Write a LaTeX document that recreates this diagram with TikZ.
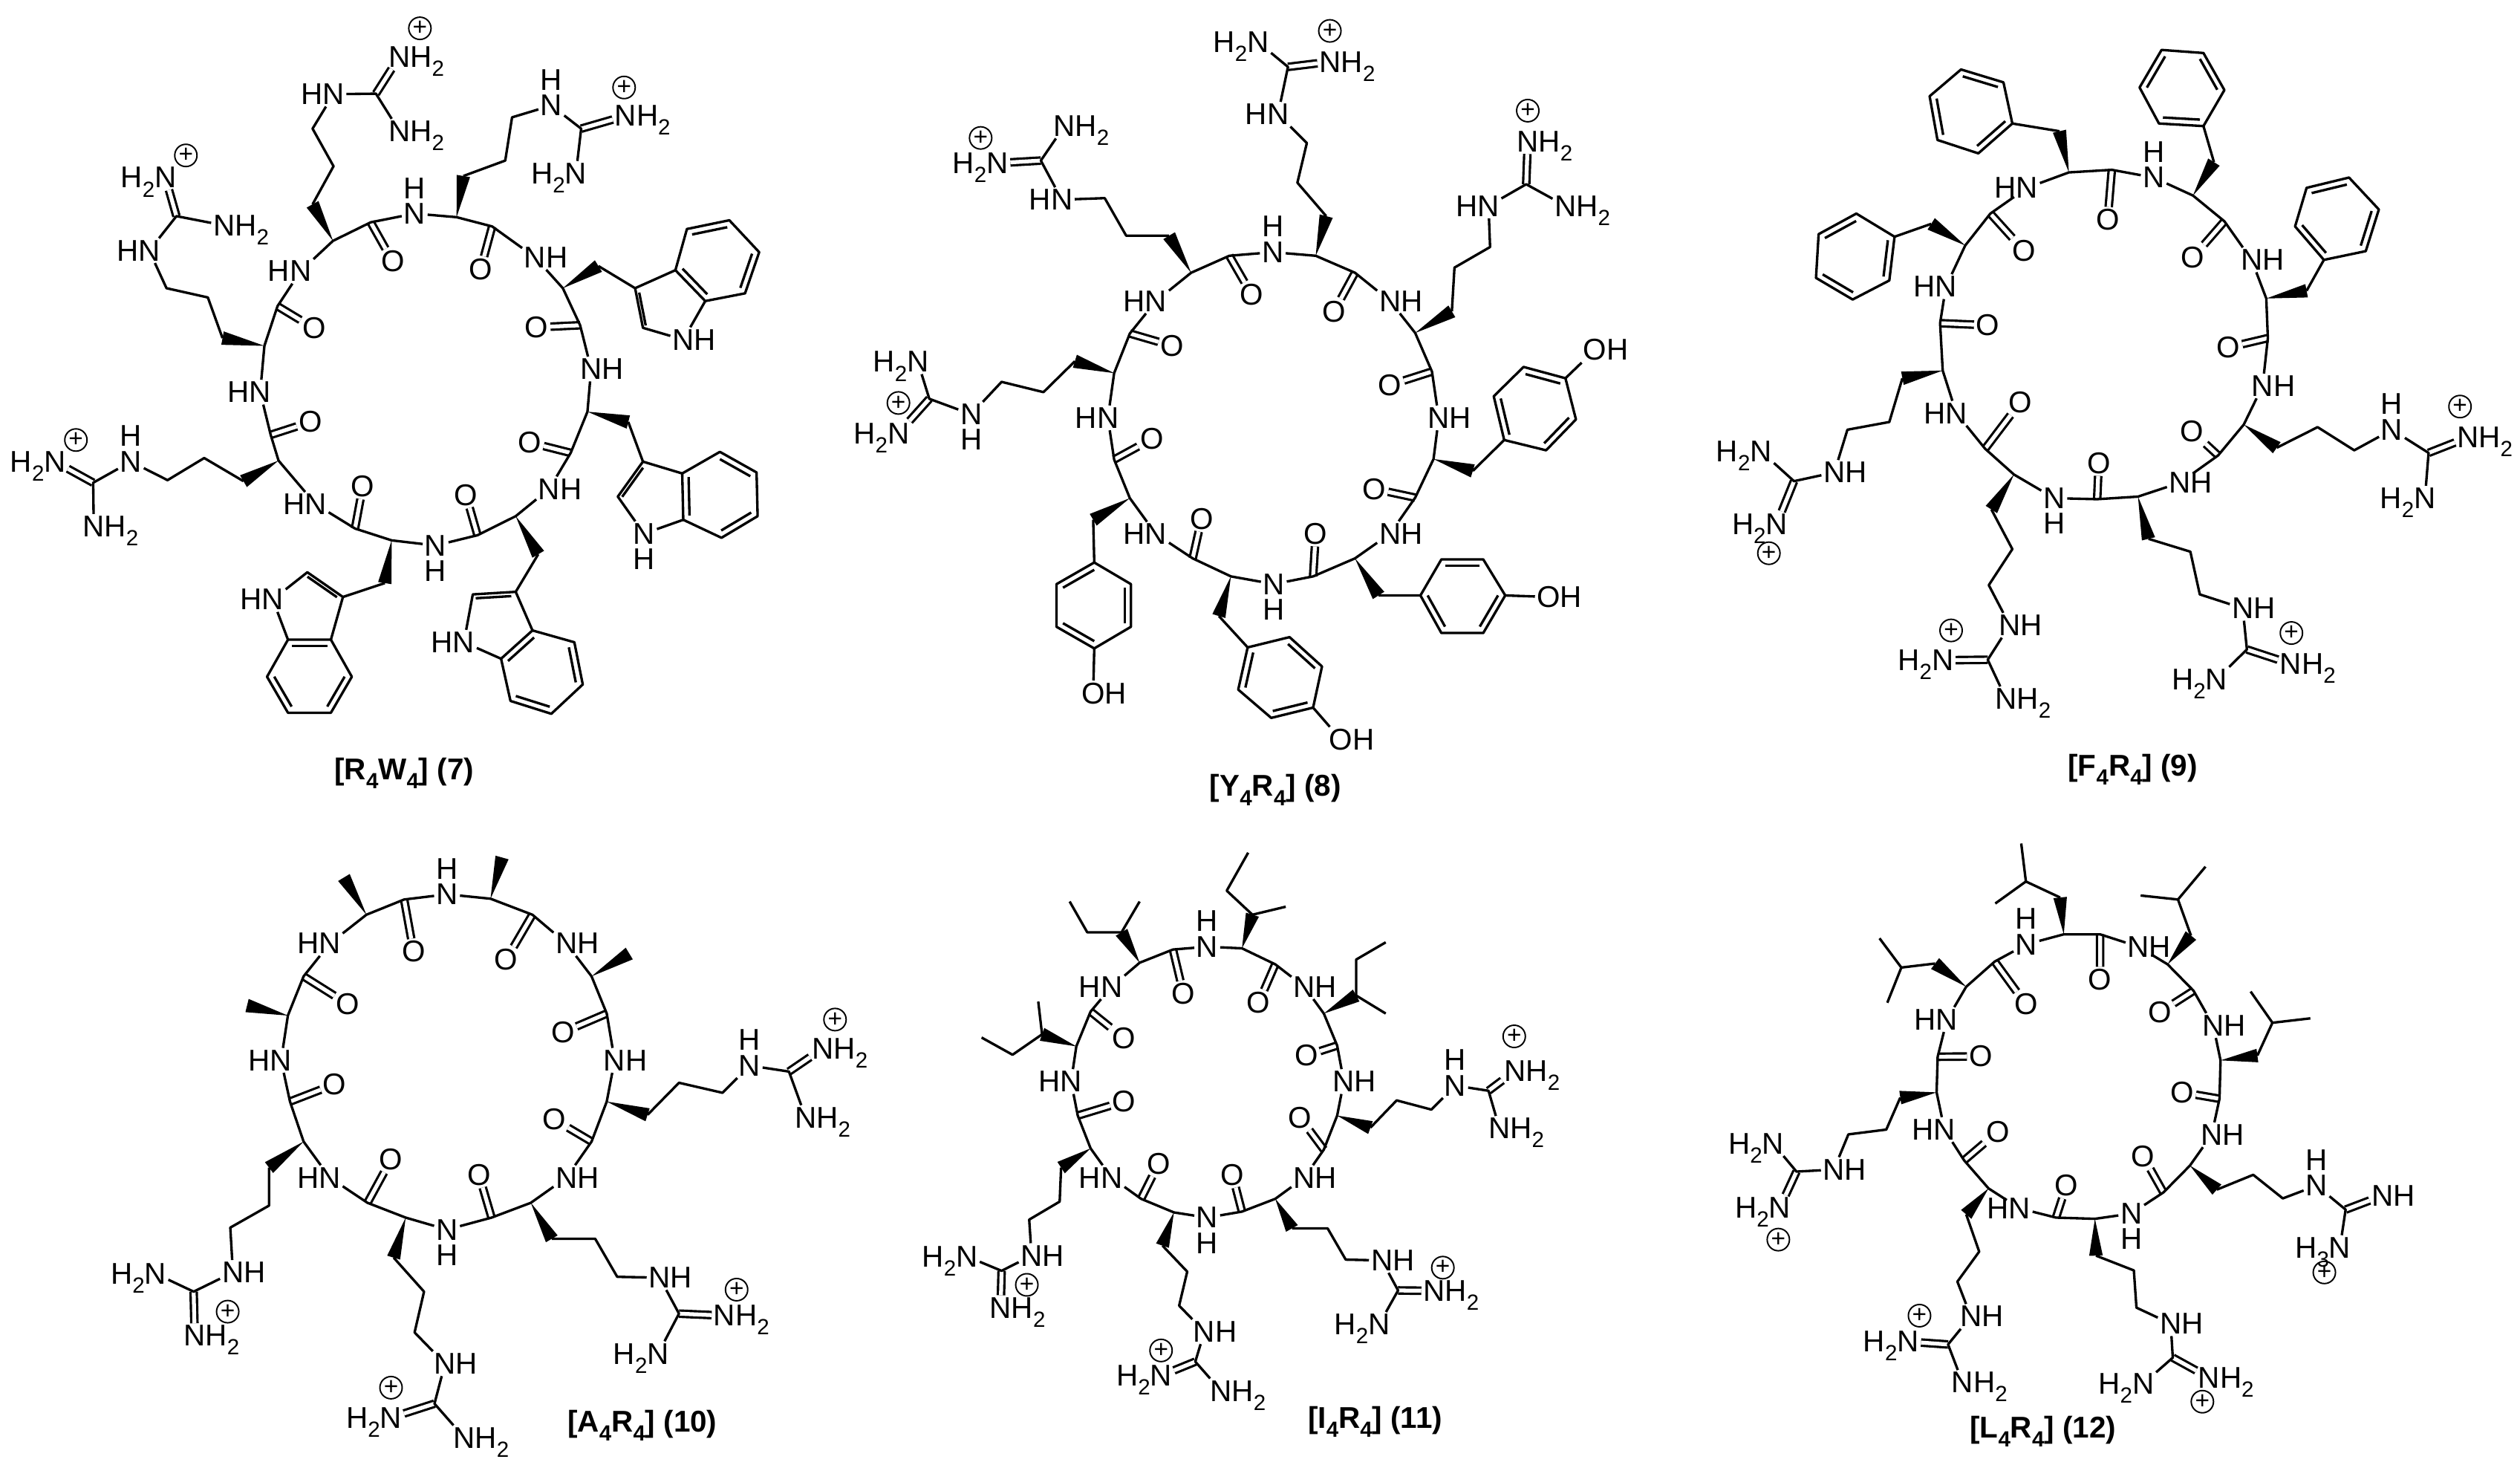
\documentclass[tikz,border=0pt]{standalone}
\usepackage{fontspec}
\setmainfont{Liberation Sans}
\usetikzlibrary{calc}
\newcommand{\sbs}[1]{\raisebox{-.3em}{\fontsize{8.4}{9}\selectfont #1}}
\newcommand{\tNH}{N\rlap{H}}
\newcommand{\tHN}{\llap{H}N}
\newcommand{\tNup}{N\llap{\smash{\raisebox{.85em}{H}}}}
\newcommand{\tNdn}{N\llap{\smash{\raisebox{-.85em}{H}}}}
\newcommand{\tNHH}{N\rlap{\smash{H\sbs{2}}}}
\newcommand{\tHHN}{\llap{\smash{H\sbs{2}}}N}
\newcommand{\tOH}{O\rlap{H}}
\newcommand{\wdg}[2]{\fill (#1) -- ($(#2)!2.6pt!90:(#1)$) -- ($(#2)!2.6pt!-90:(#1)$) -- cycle;}
\newcommand{\inb}[3]{\draw[bnd] ($(#1)!.17!(#3)$) -- ($(#2)!.17!(#3)$);}
\newcommand{\benz}[1]{\coordinate (#1c) at ($(#11)!.5!(#14)$);
  \draw[bnd] (#11) -- (#12) -- (#13) -- (#14) -- (#15) -- (#16) -- cycle;
  \inb{#11}{#12}{#1c} \inb{#13}{#14}{#1c} \inb{#15}{#16}{#1c}}
\tikzset{
  atm/.style={inner sep=.6pt,font=\fontsize{11.5}{13}\selectfont},
  chg/.style={circle,draw,line width=.55pt,inner sep=0pt,minimum size=.3cm,font=\fontsize{9.5}{10}\selectfont},
  capt/.style={inner sep=0pt,font=\fontsize{11.5}{13}\selectfont\bfseries},
  bnd/.style={line width=.95pt,line join=round},
  dbl/.style={line width=.9pt,double,double distance=1.5pt}
}
\begin{document}
\begin{tikzpicture}
\useasboundingbox (0,0) rectangle (33.93,-19.71);

\begin{scope}[shift={(0,0)},x=.00705cm,y=-.00692cm]
  \node[atm] (n1) at (792,415) {\tNup};
  \node[atm] (n2) at (1022,500) {\tNH};
  \node[atm] (n3) at (1129,717) {\tNH};
  \node[atm] (n4) at (1049,950) {\tNH};
  \node[atm] (n5) at (832,1060) {\tNdn};
  \node[atm] (n6) at (603,980) {\tHN};
  \node[atm] (n7) at (497,762) {\tHN};
  \node[atm] (n8) at (574,527) {\tHN};
  \node[atm] (o1) at (918,523) {O};
  \node[atm] (o2) at (1025,636) {O};
  \node[atm] (o3) at (1012,860) {O};
  \node[atm] (o4) at (890,962) {O};
  \node[atm] (o5) at (693,945) {O};
  \node[atm] (o6) at (593,820) {O};
  \node[atm] (o7) at (600,638) {O};
  \node[atm] (o8) at (750,508) {O};
  \coordinate (ca1) at (872,422); \coordinate (c1) at (940,440);
  \coordinate (ca2) at (1075,560); \coordinate (c2) at (1108,632);
  \coordinate (ca3) at (1122,800); \coordinate (c3) at (1090,880);
  \coordinate (ca4) at (985,1003); \coordinate (c4) at (912,1040);
  \coordinate (ca5) at (748,1050); \coordinate (c5) at (678,1027);
  \coordinate (ca6) at (532,895); \coordinate (c6) at (517,845);
  \coordinate (ca7) at (505,672); \coordinate (c7) at (530,595);
  \coordinate (ca8) at (636,468); \coordinate (c8) at (708,432);
  \draw[dbl] (c1) -- (o1) (c2) -- (o2) (c3) -- (o3) (c4) -- (o4) (c5) -- (o5) (c6) -- (o6) (c7) -- (o7) (c8) -- (o8);
  \draw[bnd] (n1) -- (ca1) -- (c1) -- (n2) -- (ca2) -- (c2) -- (n3) -- (ca3) -- (c3) -- (n4) -- (ca4) -- (c4) -- (n5) -- (ca5) -- (c5) -- (n6) -- (ca6) -- (c6) -- (n7) -- (ca7) -- (c7) -- (n8) -- (ca8) -- (c8) -- (n1);

  \coordinate (sa1) at (885,342); \coordinate (sa2) at (965,312); \coordinate (sa3) at (978,228); \coordinate (ga) at (1110,250);
  \node[atm] (na) at (1053,205) {\tNup};
  \node[atm] (ea) at (1195,225) {\tNHH};
  \node[atm] (fa) at (1100,337) {\tHHN};
  \node[chg] (pa) at (1192,170) {+};
  \draw[dbl] (ga) -- (ea);
  \draw[bnd] (sa1) -- (sa2) -- (sa3) -- (na) -- (ga) -- (fa);
  \wdg{ca1}{sa1}

  \coordinate (sb1) at (465,935); \coordinate (sb2) at (390,890); \coordinate (sb3) at (320,933); \coordinate (gb) at (178,938);
  \node[atm] (nb) at (250,897) {\tNup};
  \node[atm] (eb) at (105,897) {\tHHN};
  \node[atm] (fb) at (179,1023) {\tNHH};
  \node[chg] (pb) at (145,855) {+};
  \draw[dbl] (gb) -- (eb);
  \draw[bnd] (sb1) -- (sb2) -- (sb3) -- (nb) -- (gb) -- (fb);
  \wdg{ca6}{sb1}

  \coordinate (sc1) at (425,657); \coordinate (sc2) at (397,578); \coordinate (sc3) at (318,560); \coordinate (gc) at (337,420);
  \node[atm] (nc) at (285,487) {\tHN};
  \node[atm] (ec) at (316,345) {\tHHN};
  \node[atm] (fc) at (428,438) {\tNHH};
  \node[chg] (pc) at (355,302) {+};
  \draw[dbl] (gc) -- (ec);
  \draw[bnd] (sc1) -- (sc2) -- (sc3) -- (nc) -- (gc) -- (fc);
  \wdg{ca7}{sc1}

  \coordinate (sd1) at (597,397); \coordinate (sd2) at (637,323); \coordinate (sd3) at (597,250); \coordinate (gd) at (718,182);
  \node[atm] (nd) at (637,183) {\tHN};
  \node[atm] (ed) at (763,110) {\tNHH};
  \node[atm] (fd) at (763,255) {\tNHH};
  \node[chg] (pd) at (802,55) {+};
  \draw[dbl] (gd) -- (ed);
  \draw[bnd] (sd1) -- (sd2) -- (sd3) -- (nd) -- (gd) -- (fd);
  \wdg{ca8}{sd1}

  \coordinate (t1) at (1143,517); \coordinate (i1) at (1213,560); \coordinate (j1) at (1228,637);
  \node[atm] (k1) at (1305,660) {\tNH};
  \coordinate (r11) at (1290,525); \coordinate (r12) at (1347,585); \coordinate (r13) at (1423,570);
  \coordinate (r14) at (1450,490); \coordinate (r15) at (1393,428); \coordinate (r16) at (1312,445);
  \benz{r1}
  \draw[bnd] (t1) -- (i1) -- (j1) -- (k1) -- (r12) (i1) -- (r11);
  \inb{i1}{j1}{$(k1)!.5!(i1)$}
  \wdg{ca2}{t1}

  \coordinate (t2) at (1200,820); \coordinate (i2) at (1228,897); \coordinate (j2) at (1180,965);
  \node[atm] (k2) at (1230,1037) {\tNdn};
  \coordinate (r21) at (1303,920); \coordinate (r22) at (1305,1010); \coordinate (r23) at (1378,1045);
  \coordinate (r24) at (1447,1003); \coordinate (r25) at (1445,918); \coordinate (r26) at (1375,878);
  \benz{r2}
  \draw[bnd] (t2) -- (i2) -- (j2) -- (k2) -- (r22) (i2) -- (r21);
  \inb{i2}{j2}{$(k2)!.5!(i2)$}
  \wdg{ca3}{t2}

  \coordinate (t3) at (1028,1077); \coordinate (i3) at (985,1150); \coordinate (j3) at (903,1155);
  \node[atm] (k3) at (886,1248) {\tHN};
  \coordinate (r31) at (1017,1225); \coordinate (r32) at (957,1280); \coordinate (r33) at (975,1362);
  \coordinate (r34) at (1053,1387); \coordinate (r35) at (1113,1330); \coordinate (r36) at (1097,1248);
  \benz{r3}
  \draw[bnd] (t3) -- (i3) -- (j3) -- (k3) -- (r32) (i3) -- (r31);
  \inb{i3}{j3}{$(k3)!.5!(i3)$}
  \wdg{ca4}{t3}

  \coordinate (t4) at (735,1133); \coordinate (i4) at (655,1160); \coordinate (j4) at (587,1112);
  \node[atm] (k4) at (521,1165) {\tHN};
  \coordinate (r41) at (632,1243); \coordinate (r42) at (550,1243); \coordinate (r43) at (510,1315);
  \coordinate (r44) at (550,1385); \coordinate (r45) at (632,1385); \coordinate (r46) at (672,1315);
  \benz{r4}
  \draw[bnd] (t4) -- (i4) -- (j4) -- (k4) -- (r42) (i4) -- (r41);
  \inb{i4}{j4}{$(k4)!.5!(i4)$}
  \wdg{ca5}{t4}

  \node[capt] (cap7) at (772,1503) {[R\sbs{4}W\sbs{4}] (7)};
\end{scope}

\begin{scope}[shift={(11.30,0)},x=.00705cm,y=-.00692cm]
  \node[atm] (n1) at (828,490) {\tNup};
  \node[atm] (n2) at (1052,585) {\tNH};
  \node[atm] (n3) at (1145,812) {\tNH};
  \node[atm] (n4) at (1052,1037) {\tNH};
  \node[atm] (n5) at (830,1135) {\tNdn};
  \node[atm] (n6) at (605,1038) {\tHN};
  \node[atm] (n7) at (513,812) {\tHN};
  \node[atm] (n8) at (605,585) {\tHN};
  \node[atm] (o1) at (945,605) {O};
  \node[atm] (o2) at (1052,748) {O};
  \node[atm] (o3) at (1022,950) {O};
  \node[atm] (o4) at (910,1037) {O};
  \node[atm] (o5) at (692,1008) {O};
  \node[atm] (o6) at (597,853) {O};
  \node[atm] (o7) at (636,672) {O};
  \node[atm] (o8) at (788,573) {O};
  \coordinate (ca1) at (910,497); \coordinate (c1) at (985,530);
  \coordinate (ca2) at (1100,647); \coordinate (c2) at (1132,722);
  \coordinate (ca3) at (1135,892); \coordinate (c3) at (1100,967);
  \coordinate (ca4) at (985,1085); \coordinate (c4) at (905,1120);
  \coordinate (ca5) at (748,1120); \coordinate (c5) at (675,1085);
  \coordinate (ca6) at (555,968); \coordinate (c6) at (525,893);
  \coordinate (ca7) at (525,725); \coordinate (c7) at (555,648);
  \coordinate (ca8) at (672,530); \coordinate (c8) at (745,497);
  \draw[dbl] (c1) -- (o1) (c2) -- (o2) (c3) -- (o3) (c4) -- (o4) (c5) -- (o5) (c6) -- (o6) (c7) -- (o7) (c8) -- (o8);
  \draw[bnd] (n1) -- (ca1) -- (c1) -- (n2) -- (ca2) -- (c2) -- (n3) -- (ca3) -- (c3) -- (n4) -- (ca4) -- (c4) -- (n5) -- (ca5) -- (c5) -- (n6) -- (ca6) -- (c6) -- (n7) -- (ca7) -- (c7) -- (n8) -- (ca8) -- (c8) -- (n1);

  \coordinate (sa1) at (930,420); \coordinate (sa2) at (875,355); \coordinate (sa3) at (893,278); \coordinate (ga) at (857,130);
  \node[atm] (na) at (838,222) {\tHN};
  \node[atm] (ea) at (938,120) {\tNHH};
  \node[atm] (fa) at (800,82) {\tHHN};
  \node[chg] (pa) at (937,60) {+};
  \draw[dbl] (ga) -- (ea);
  \draw[bnd] (sa1) -- (sa2) -- (sa3) -- (na) -- (ga) -- (fa);
  \wdg{ca1}{sa1}

  \coordinate (sb1) at (1170,605); \coordinate (sb2) at (1175,520); \coordinate (sb3) at (1243,480); \coordinate (gb) at (1312,358);
  \node[atm] (nb) at (1240,400) {\tHN};
  \node[atm] (eb) at (1315,275) {\tNHH};
  \node[atm] (fb) at (1387,400) {\tNHH};
  \node[chg] (pb) at (1315,215) {+};
  \draw[dbl] (gb) -- (eb);
  \draw[bnd] (sb1) -- (sb2) -- (sb3) -- (nb) -- (gb) -- (fb);
  \wdg{ca2}{sb1}

  \coordinate (sc1) at (450,702); \coordinate (sc2) at (390,762); \coordinate (sc3) at (310,742); \coordinate (gc) at (172,775);
  \node[atm] (nc) at (252,805) {\tNdn};
  \node[atm] (ec) at (113,842) {\tHHN};
  \node[atm] (fc) at (150,703) {\tHHN};
  \node[chg] (pc) at (113,783) {+};
  \draw[dbl] (gc) -- (ec);
  \draw[bnd] (sc1) -- (sc2) -- (sc3) -- (nc) -- (gc) -- (fc);
  \wdg{ca7}{sc1}

  \coordinate (sd1) at (630,458); \coordinate (sd2) at (548,458); \coordinate (sd3) at (507,385); \coordinate (gd) at (385,312);
  \node[atm] (nd) at (425,388) {\tHN};
  \node[atm] (ed) at (302,317) {\tHHN};
  \node[atm] (fd) at (430,245) {\tNHH};
  \node[chg] (pd) at (270,268) {+};
  \draw[dbl] (gd) -- (ed);
  \draw[bnd] (sd1) -- (sd2) -- (sd3) -- (nd) -- (gd) -- (fd);
  \wdg{ca8}{sd1}

  \coordinate (t1) at (1210,915);
  \coordinate (r11) at (1270,855); \coordinate (r12) at (1250,770); \coordinate (r13) at (1307,713);
  \coordinate (r14) at (1387,735); \coordinate (r15) at (1407,815); \coordinate (r16) at (1350,875);
  \node[atm] (h1) at (1443,680) {\tOH};
  \benz{r1}
  \draw[bnd] (t1) -- (r11) (r14) -- (h1);
  \wdg{ca3}{t1}

  \coordinate (t2) at (1030,1157);
  \coordinate (r21) at (1110,1157); \coordinate (r22) at (1150,1230); \coordinate (r23) at (1230,1230);
  \coordinate (r24) at (1272,1157); \coordinate (r25) at (1230,1087); \coordinate (r26) at (1150,1087);
  \node[atm] (h2) at (1355,1160) {\tOH};
  \benz{r2}
  \draw[bnd] (t2) -- (r21) (r24) -- (h2);
  \wdg{ca4}{t2}

  \coordinate (t3) at (725,1197);
  \coordinate (r31) at (780,1258); \coordinate (r32) at (762,1340); \coordinate (r33) at (825,1395);
  \coordinate (r34) at (905,1375); \coordinate (r35) at (922,1295); \coordinate (r36) at (860,1238);
  \node[atm] (h3) at (958,1437) {\tOH};
  \benz{r3}
  \draw[bnd] (t3) -- (r31) (r34) -- (h3);
  \wdg{ca5}{t3}

  \coordinate (t4) at (485,1010);
  \coordinate (r41) at (487,1093); \coordinate (r42) at (415,1135); \coordinate (r43) at (415,1218);
  \coordinate (r44) at (487,1260); \coordinate (r45) at (557,1218); \coordinate (r46) at (557,1135);
  \node[atm] (h4) at (485,1347) {\tOH};
  \benz{r4}
  \draw[bnd] (t4) -- (r41) (r44) -- (h4);
  \wdg{ca6}{t4}

  \node[capt] (cap8) at (833,1535) {[Y\sbs{4}R\sbs{4}] (8)};
\end{scope}

\begin{scope}[shift={(22.90,0)},x=.00705cm,y=-.00692cm]
  \node[atm] (n1) at (865,345) {\tNup};
  \node[atm] (n2) at (1052,505) {\tNH};
  \node[atm] (n3) at (1073,750) {\tNH};
  \node[atm] (n4) at (915,938) {\tNH};
  \node[atm] (n5) at (675,968) {\tNdn};
  \node[atm] (n6) at (488,803) {\tHN};
  \node[atm] (n7) at (468,557) {\tHN};
  \node[atm] (n8) at (623,365) {\tHN};
  \node[atm] (o1) at (940,500) {O};
  \node[atm] (o2) at (1008,675) {O};
  \node[atm] (o3) at (938,838) {O};
  \node[atm] (o4) at (760,900) {O};
  \node[atm] (o5) at (610,782) {O};
  \node[atm] (o6) at (548,632) {O};
  \node[atm] (o7) at (617,487) {O};
  \node[atm] (o8) at (777,427) {O};
  \coordinate (ca1) at (940,380); \coordinate (c1) at (1000,430);
  \coordinate (ca2) at (1080,580); \coordinate (c2) at (1083,657);
  \coordinate (ca3) at (1037,825); \coordinate (c3) at (988,885);
  \coordinate (ca4) at (835,965); \coordinate (c4) at (757,970);
  \coordinate (ca5) at (598,922); \coordinate (c5) at (543,872);
  \coordinate (ca6) at (462,720); \coordinate (c6) at (457,628);
  \coordinate (ca7) at (505,477); \coordinate (c7) at (553,415);
  \coordinate (ca8) at (703,335); \coordinate (c8) at (785,330);
  \draw[dbl] (c1) -- (o1) (c2) -- (o2) (c3) -- (o3) (c4) -- (o4) (c5) -- (o5) (c6) -- (o6) (c7) -- (o7) (c8) -- (o8);
  \draw[bnd] (n1) -- (ca1) -- (c1) -- (n2) -- (ca2) -- (c2) -- (n3) -- (ca3) -- (c3) -- (n4) -- (ca4) -- (c4) -- (n5) -- (ca5) -- (c5) -- (n6) -- (ca6) -- (c6) -- (n7) -- (ca7) -- (c7) -- (n8) -- (ca8) -- (c8) -- (n1);

  \coordinate (sa1) at (1100,870); \coordinate (sa2) at (1178,830); \coordinate (sa3) at (1248,875); \coordinate (ga) at (1390,880);
  \node[atm] (na) at (1320,835) {\tNup};
  \node[atm] (ea) at (1465,850) {\tNHH};
  \node[atm] (fa) at (1383,968) {\tHHN};
  \node[chg] (pa) at (1450,790) {+};
  \draw[dbl] (ga) -- (ea);
  \draw[bnd] (sa1) -- (sa2) -- (sa3) -- (na) -- (ga) -- (fa);
  \wdg{ca3}{sa1}

  \coordinate (sb1) at (855,1047); \coordinate (sb2) at (935,1072); \coordinate (sb3) at (953,1155); \coordinate (gb) at (1043,1262);
  \node[atm] (nb) at (1035,1182) {\tNH};
  \node[atm] (eb) at (1127,1290) {\tNHH};
  \node[atm] (fb) at (985,1320) {\tHHN};
  \node[chg] (pb) at (1128,1230) {+};
  \draw[dbl] (gb) -- (eb);
  \draw[bnd] (sb1) -- (sb2) -- (sb3) -- (nb) -- (gb) -- (fb);
  \wdg{ca4}{sb1}

  \coordinate (sc1) at (555,990); \coordinate (sc2) at (595,1067); \coordinate (sc3) at (550,1137); \coordinate (gc) at (548,1282);
  \node[atm] (nc) at (590,1215) {\tNH};
  \node[atm] (ec) at (462,1283) {\tHHN};
  \node[atm] (fc) at (583,1358) {\tNHH};
  \node[chg] (pc) at (478,1225) {+};
  \draw[dbl] (gc) -- (ec);
  \draw[bnd] (sc1) -- (sc2) -- (sc3) -- (nc) -- (gc) -- (fc);
  \wdg{ca5}{sc1}

  \coordinate (sd1) at (385,735); \coordinate (sd2) at (360,820); \coordinate (sd3) at (280,835); \coordinate (gd) at (178,935);
  \node[atm] (nd) at (255,918) {\tNH};
  \node[atm] (ed) at (145,1018) {\tHHN};
  \node[atm] (fd) at (115,877) {\tHHN};
  \node[chg] (pd) at (130,1075) {+};
  \draw[dbl] (gd) -- (ed);
  \draw[bnd] (sd1) -- (sd2) -- (sd3) -- (nd) -- (gd) -- (fd);
  \wdg{ca6}{sd1}

  \coordinate (t1) at (980,315);
  \coordinate (r11) at (960,245); \coordinate (r12) at (875,240); \coordinate (r13) at (838,170);
  \coordinate (r14) at (880,97); \coordinate (r15) at (960,103); \coordinate (r16) at (1000,175);
  \benz{r1}
  \draw[bnd] (t1) -- (r11);
  \wdg{ca1}{t1}

  \coordinate (t2) at (1157,565);
  \coordinate (r21) at (1190,505); \coordinate (r22) at (1135,440); \coordinate (r23) at (1157,365);
  \coordinate (r24) at (1238,345); \coordinate (r25) at (1295,407); \coordinate (r26) at (1270,488);
  \benz{r2}
  \draw[bnd] (t2) -- (r21);
  \wdg{ca2}{t2}

  \coordinate (t3) at (440,435);
  \coordinate (r31) at (370,460); \coordinate (r32) at (360,545); \coordinate (r33) at (290,582);
  \coordinate (r34) at (220,540); \coordinate (r35) at (225,455); \coordinate (r36) at (297,415);
  \benz{r3}
  \draw[bnd] (t3) -- (r31);
  \wdg{ca7}{t3}

  \coordinate (t4) at (685,255);
  \coordinate (r41) at (595,240); \coordinate (r42) at (530,298); \coordinate (r43) at (452,272);
  \coordinate (r44) at (437,187); \coordinate (r45) at (497,135); \coordinate (r46) at (578,160);
  \benz{r4}
  \draw[bnd] (t4) -- (r41);
  \wdg{ca8}{t4}

  \node[capt] (cap9) at (825,1495) {[F\sbs{4}R\sbs{4}] (9)};
\end{scope}

\begin{scope}[shift={(1.00,-11.30)},x=.00705cm,y=-.00538cm]
  \node[atm] (n1) at (712,137) {\tNup};
  \node[atm] (n2) at (940,260) {\tNH};
  \node[atm] (n3) at (1032,552) {\tNH};
  \node[atm] (n4) at (940,845) {\tNH};
  \node[atm] (n5) at (712,975) {\tNdn};
  \node[atm] (n6) at (488,845) {\tHN};
  \node[atm] (n7) at (395,552) {\tHN};
  \node[atm] (n8) at (488,260) {\tHN};
  \node[atm] (o1) at (825,300) {O};
  \node[atm] (o2) at (933,482) {O};
  \node[atm] (o3) at (917,700) {O};
  \node[atm] (o4) at (773,838) {O};
  \node[atm] (o5) at (605,800) {O};
  \node[atm] (o6) at (497,612) {O};
  \node[atm] (o7) at (523,412) {O};
  \node[atm] (o8) at (648,280) {O};
  \coordinate (ca1) at (795,148); \coordinate (c1) at (875,188);
  \coordinate (ca2) at (988,342); \coordinate (c2) at (1017,435);
  \coordinate (ca3) at (1017,655); \coordinate (c3) at (988,755);
  \coordinate (ca4) at (872,908); \coordinate (c4) at (797,945);
  \coordinate (ca5) at (633,945); \coordinate (c5) at (560,908);
  \coordinate (ca6) at (438,755); \coordinate (c6) at (412,655);
  \coordinate (ca7) at (408,440); \coordinate (c7) at (438,342);
  \coordinate (ca8) at (558,188); \coordinate (c8) at (630,150);
  \draw[dbl] (c1) -- (o1) (c2) -- (o2) (c3) -- (o3) (c4) -- (o4) (c5) -- (o5) (c6) -- (o6) (c7) -- (o7) (c8) -- (o8);
  \draw[bnd] (n1) -- (ca1) -- (c1) -- (n2) -- (ca2) -- (c2) -- (n3) -- (ca3) -- (c3) -- (n4) -- (ca4) -- (c4) -- (n5) -- (ca5) -- (c5) -- (n6) -- (ca6) -- (c6) -- (n7) -- (ca7) -- (c7) -- (n8) -- (ca8) -- (c8) -- (n1);

  \coordinate (m1) at (817,45); \coordinate (m2) at (1060,285); \coordinate (m3) at (330,415); \coordinate (m4) at (515,95);
  \wdg{ca1}{m1} \wdg{ca2}{m2} \wdg{ca7}{m3} \wdg{ca8}{m4}

  \coordinate (sa1) at (1095,688); \coordinate (sa2) at (1155,608); \coordinate (sa3) at (1238,633); \coordinate (ga) at (1365,580);
  \node[atm] (na) at (1290,565) {\tNup};
  \node[atm] (ea) at (1430,522) {\tNHH};
  \node[atm] (fa) at (1397,695) {\tNHH};
  \node[chg] (pa) at (1453,450) {+};
  \draw[dbl] (ga) -- (ea);
  \draw[bnd] (sa1) -- (sa2) -- (sa3) -- (na) -- (ga) -- (fa);
  \wdg{ca3}{sa1}

  \coordinate (sb1) at (912,998); \coordinate (sb2) at (995,998); \coordinate (sb3) at (1037,1093); \coordinate (gb) at (1155,1185);
  \node[atm] (nb) at (1118,1095) {\tNH};
  \node[atm] (eb) at (1242,1190) {\tNHH};
  \node[atm] (fb) at (1115,1285) {\tHHN};
  \node[chg] (pb) at (1265,1125) {+};
  \draw[dbl] (gb) -- (eb);
  \draw[bnd] (sb1) -- (sb2) -- (sb3) -- (nb) -- (gb) -- (fb);
  \wdg{ca4}{sb1}

  \coordinate (sc1) at (610,1045); \coordinate (sc2) at (668,1130); \coordinate (sc3) at (650,1232); \coordinate (gc) at (688,1410);
  \node[atm] (nc) at (708,1310) {\tNH};
  \node[atm] (ec) at (605,1445) {\tHHN};
  \node[atm] (fc) at (745,1495) {\tNHH};
  \node[chg] (pc) at (605,1370) {+};
  \draw[dbl] (gc) -- (ec);
  \draw[bnd] (sc1) -- (sc2) -- (sc3) -- (nc) -- (gc) -- (fc);
  \wdg{ca5}{sc1}

  \coordinate (sd1) at (372,820); \coordinate (sd2) at (372,915); \coordinate (sd3) at (298,970); \coordinate (gd) at (228,1130);
  \node[atm] (nd) at (303,1082) {\tNH};
  \node[atm] (ed) at (230,1240) {\tNHH};
  \node[atm] (fd) at (155,1085) {\tHHN};
  \node[chg] (pd) at (293,1180) {+};
  \draw[dbl] (gd) -- (ed);
  \draw[bnd] (sd1) -- (sd2) -- (sd3) -- (nd) -- (gd) -- (fd);
  \wdg{ca6}{sd1}

  \node[capt] (cap10) at (1085,1465) {[A\sbs{4}R\sbs{4}] (10)};
\end{scope}

\begin{scope}[shift={(12.30,-11.30)},x=.00641cm,y=-.00538cm]
  \node[atm] (n1) at (617,268) {\tNup};
  \node[atm] (n2) at (821,368) {\tNH};
  \node[atm] (n3) at (904,605) {\tNH};
  \node[atm] (n4) at (821,845) {\tNH};
  \node[atm] (n5) at (617,945) {\tNdn};
  \node[atm] (n6) at (416,845) {\tHN};
  \node[atm] (n7) at (331,605) {\tHN};
  \node[atm] (n8) at (416,368) {\tHN};
  \node[atm] (o1) at (725,408) {O};
  \node[atm] (o2) at (825,540) {O};
  \node[atm] (o3) at (812,695) {O};
  \node[atm] (o4) at (670,838) {O};
  \node[atm] (o5) at (515,810) {O};
  \node[atm] (o6) at (442,655) {O};
  \node[atm] (o7) at (442,497) {O};
  \node[atm] (o8) at (567,385) {O};
  \coordinate (ca1) at (690,272); \coordinate (c1) at (760,312);
  \coordinate (ca2) at (862,435); \coordinate (c2) at (890,515);
  \coordinate (ca3) at (890,690); \coordinate (c3) at (862,775);
  \coordinate (ca4) at (760,898); \coordinate (c4) at (690,930);
  \coordinate (ca5) at (547,932); \coordinate (c5) at (478,898);
  \coordinate (ca6) at (372,772); \coordinate (c6) at (345,690);
  \coordinate (ca7) at (342,517); \coordinate (c7) at (372,430);
  \coordinate (ca8) at (475,308); \coordinate (c8) at (545,275);
  \draw[dbl] (c1) -- (o1) (c2) -- (o2) (c3) -- (o3) (c4) -- (o4) (c5) -- (o5) (c6) -- (o6) (c7) -- (o7) (c8) -- (o8);
  \draw[bnd] (n1) -- (ca1) -- (c1) -- (n2) -- (ca2) -- (c2) -- (n3) -- (ca3) -- (c3) -- (n4) -- (ca4) -- (c4) -- (n5) -- (ca5) -- (c5) -- (n6) -- (ca6) -- (c6) -- (n7) -- (ca7) -- (c7) -- (n8) -- (ca8) -- (c8) -- (n1);

  \coordinate (b1) at (712,188); \coordinate (b1m) at (782,168); \coordinate (b1e) at (658,128); \coordinate (b1t) at (703,33);
  \coordinate (b2) at (930,390); \coordinate (b2m) at (992,435); \coordinate (b2e) at (930,300); \coordinate (b2t) at (992,257);
  \coordinate (b3) at (270,487); \coordinate (b3m) at (262,405); \coordinate (b3e) at (208,538); \coordinate (b3t) at (143,495);
  \coordinate (b4) at (437,232); \coordinate (b4m) at (475,155); \coordinate (b4e) at (365,232); \coordinate (b4t) at (328,155);
  \draw[bnd] (b1m) -- (b1) -- (b1e) -- (b1t) (b2m) -- (b2) -- (b2e) -- (b2t) (b3m) -- (b3) -- (b3e) -- (b3t) (b4m) -- (b4) -- (b4e) -- (b4t);
  \wdg{ca1}{b1} \wdg{ca2}{b2} \wdg{ca7}{b3} \wdg{ca8}{b4}

  \coordinate (sa1) at (960,720); \coordinate (sa2) at (1015,652); \coordinate (sa3) at (1088,675); \coordinate (ga) at (1208,628);
  \node[atm] (na) at (1138,615) {\tNup};
  \node[atm] (ea) at (1264,578) {\tNHH};
  \node[atm] (fa) at (1231,722) {\tNHH};
  \node[chg] (pa) at (1262,492) {+};
  \draw[dbl] (ga) -- (ea);
  \draw[bnd] (sa1) -- (sa2) -- (sa3) -- (na) -- (ga) -- (fa);
  \wdg{ca3}{sa1}

  \coordinate (sb1) at (795,972); \coordinate (sb2) at (870,972); \coordinate (sb3) at (908,1050); \coordinate (gb) at (1018,1127);
  \node[atm] (nb) at (984,1052) {\tNH};
  \node[atm] (eb) at (1094,1128) {\tNHH};
  \node[atm] (fb) at (978,1212) {\tHHN};
  \node[chg] (pb) at (1112,1070) {+};
  \draw[dbl] (gb) -- (eb);
  \draw[bnd] (sb1) -- (sb2) -- (sb3) -- (nb) -- (gb) -- (fb);
  \wdg{ca4}{sb1}

  \coordinate (sc1) at (523,1015); \coordinate (sc2) at (575,1080); \coordinate (sc3) at (558,1165); \coordinate (gc) at (592,1305);
  \node[atm] (nc) at (611,1230) {\tNH};
  \node[atm] (ec) at (520,1340) {\tHHN};
  \node[atm] (fc) at (646,1378) {\tNHH};
  \node[chg] (pc) at (520,1277) {+};
  \draw[dbl] (gc) -- (ec);
  \draw[bnd] (sc1) -- (sc2) -- (sc3) -- (nc) -- (gc) -- (fc);
  \wdg{ca5}{sc1}

  \coordinate (sd1) at (310,820); \coordinate (sd2) at (307,905); \coordinate (sd3) at (243,950); \coordinate (gd) at (185,1078);
  \node[atm] (nd) at (248,1040) {\tNH};
  \node[atm] (ed) at (183,1170) {\tNHH};
  \node[atm] (fd) at (112,1042) {\tHHN};
  \node[chg] (pd) at (238,1113) {+};
  \draw[dbl] (gd) -- (ed);
  \draw[bnd] (sd1) -- (sd2) -- (sd3) -- (nd) -- (gd) -- (fd);
  \wdg{ca6}{sd1}

  \node[capt] (cap11) at (970,1455) {[I\sbs{4}R\sbs{4}] (11)};
\end{scope}

\begin{scope}[shift={(23.00,-11.30)},x=.00699cm,y=-.00538cm]
  \node[atm] (n1) at (613,262) {\tNup};
  \node[atm] (n2) at (829,268) {\tNH};
  \node[atm] (n3) at (973,465) {\tNH};
  \node[atm] (n4) at (970,738) {\tNH};
  \node[atm] (n5) at (815,935) {\tNdn};
  \node[atm] (n6) at (600,922) {\tHN};
  \node[atm] (n7) at (455,725) {\tHN};
  \node[atm] (n8) at (460,450) {\tHN};
  \node[atm] (o1) at (755,350) {O};
  \node[atm] (o2) at (870,432) {O};
  \node[atm] (o3) at (913,632) {O};
  \node[atm] (o4) at (838,792) {O};
  \node[atm] (o5) at (690,865) {O};
  \node[atm] (o6) at (558,730) {O};
  \node[atm] (o7) at (525,542) {O};
  \node[atm] (o8) at (612,412) {O};
  \coordinate (ca1) at (685,237); \coordinate (c1) at (755,237);
  \coordinate (ca2) at (885,312); \coordinate (c2) at (935,378);
  \coordinate (ca3) at (987,552); \coordinate (c3) at (985,648);
  \coordinate (ca4) at (928,815); \coordinate (c4) at (877,882);
  \coordinate (ca5) at (745,948); \coordinate (c5) at (670,945);
  \coordinate (ca6) at (540,872); \coordinate (c6) at (493,802);
  \coordinate (ca7) at (440,632); \coordinate (c7) at (442,543);
  \coordinate (ca8) at (497,368); \coordinate (c8) at (552,305);
  \draw[dbl] (c1) -- (o1) (c2) -- (o2) (c3) -- (o3) (c4) -- (o4) (c5) -- (o5) (c6) -- (o6) (c7) -- (o7) (c8) -- (o8);
  \draw[bnd] (n1) -- (ca1) -- (c1) -- (n2) -- (ca2) -- (c2) -- (n3) -- (ca3) -- (c3) -- (n4) -- (ca4) -- (c4) -- (n5) -- (ca5) -- (c5) -- (n6) -- (ca6) -- (c6) -- (n7) -- (ca7) -- (c7) -- (n8) -- (ca8) -- (c8) -- (n1);

  \coordinate (b1) at (678,145); \coordinate (b1i) at (612,105); \coordinate (b1t) at (603,10); \coordinate (b1u) at (553,160);
  \coordinate (b2) at (930,240); \coordinate (b2i) at (905,150); \coordinate (b2t) at (958,68); \coordinate (b2u) at (833,140);
  \coordinate (b3) at (1058,540); \coordinate (b3i) at (1087,458); \coordinate (b3t) at (1045,380); \coordinate (b3u) at (1160,447);
  \coordinate (b4) at (437,310); \coordinate (b4i) at (372,320); \coordinate (b4t) at (330,247); \coordinate (b4u) at (345,408);
  \draw[bnd] (b1) -- (b1i) -- (b1t) (b1i) -- (b1u) (b2) -- (b2i) -- (b2t) (b2i) -- (b2u) (b3) -- (b3i) -- (b3t) (b3i) -- (b3u) (b4) -- (b4i) -- (b4t) (b4i) -- (b4u);
  \wdg{ca1}{b1} \wdg{ca2}{b2} \wdg{ca3}{b3} \wdg{ca8}{b4}

  \coordinate (sa1) at (980,875); \coordinate (sa2) at (1050,838); \coordinate (sa3) at (1107,897); \coordinate (ga) at (1228,925);
  \node[atm] (na) at (1172,865) {\tNup};
  \node[atm] (ea) at (1299,890) {\tNH};
  \node[atm] (fa) at (1217,1020) {\llap{\smash{H\sbs{3}}}N};
  \node[chg] (pa) at (1187,1082) {+};
  \draw[dbl] (ga) -- (ea);
  \draw[bnd] (sa1) -- (sa2) -- (sa3) -- (na) -- (ga) -- (fa);
  \wdg{ca4}{sa1}

  \coordinate (sb1) at (747,1040); \coordinate (sb2) at (820,1077); \coordinate (sb3) at (825,1170); \coordinate (gb) at (895,1295);
  \node[atm] (nb) at (891,1210) {\tNH};
  \node[atm] (eb) at (965,1345) {\tNHH};
  \node[atm] (fb) at (838,1360) {\tHHN};
  \node[chg] (pb) at (952,1405) {+};
  \draw[dbl] (gb) -- (eb);
  \draw[bnd] (sb1) -- (sb2) -- (sb3) -- (nb) -- (gb) -- (fb);
  \wdg{ca5}{sb1}

  \coordinate (sc1) at (497,937); \coordinate (sc2) at (522,1030); \coordinate (sc3) at (480,1105); \coordinate (gc) at (462,1262);
  \node[atm] (nc) at (506,1192) {\tNH};
  \node[atm] (ec) at (385,1255) {\tHHN};
  \node[atm] (fc) at (490,1357) {\tNHH};
  \node[chg] (pc) at (407,1190) {+};
  \draw[dbl] (gc) -- (ec);
  \draw[bnd] (sc1) -- (sc2) -- (sc3) -- (nc) -- (gc) -- (fc);
  \wdg{ca6}{sc1}

  \coordinate (sd1) at (370,645); \coordinate (sd2) at (343,725); \coordinate (sd3) at (270,737); \coordinate (gd) at (170,830);
  \node[atm] (nd) at (242,825) {\tNH};
  \node[atm] (ed) at (138,920) {\tHHN};
  \node[atm] (fd) at (125,760) {\tHHN};
  \node[chg] (pd) at (135,1000) {+};
  \draw[dbl] (gd) -- (ed);
  \draw[bnd] (sd1) -- (sd2) -- (sd3) -- (nd) -- (gd) -- (fd);
  \wdg{ca7}{sd1}

  \node[capt] (cap12) at (645,1480) {[L\sbs{4}R\sbs{4}] (12)};
\end{scope}
\end{tikzpicture}
\end{document}
